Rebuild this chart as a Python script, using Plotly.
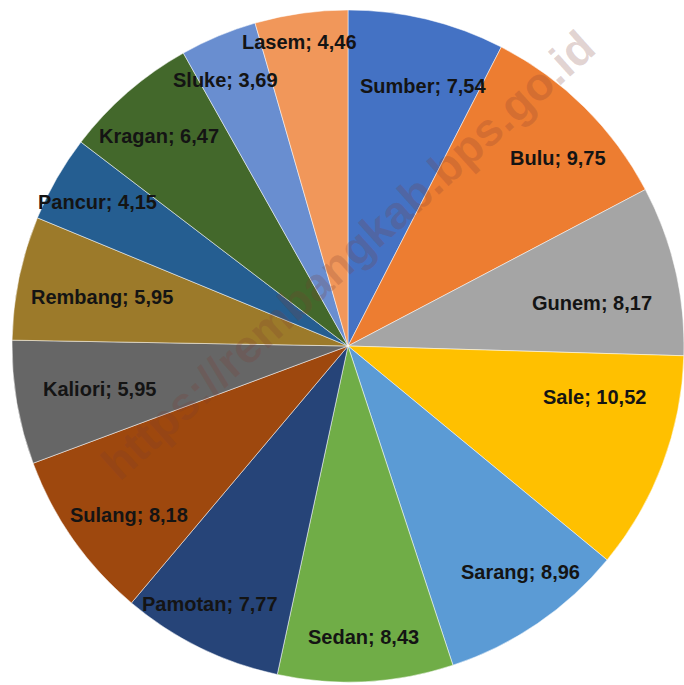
import math
import plotly.graph_objects as go

districts = ["Sumber", "Bulu", "Gunem", "Sale", "Sarang", "Sedan", "Pamotan",
             "Sulang", "Kaliori", "Rembang", "Pancur", "Kragan", "Sluke", "Lasem"]
values = [7.54, 9.75, 8.17, 10.52, 8.96, 8.43, 7.77, 8.18, 5.95, 5.95, 4.15, 6.47, 3.69, 4.46]
colors = ["#4472C4", "#ED7D31", "#A5A5A5", "#FFC000", "#5B9BD5", "#70AD47", "#264478",
          "#9E480E", "#666666", "#9C7A2A", "#255E91", "#43682B", "#698ED0", "#F1975A"]

# label placement style (fraction of radius, angular nudge in degrees)
label_r = [0.806, 0.838, 0.736, 0.749, 0.847, 0.868, 0.870,
           0.825, 0.751, 0.746, 0.859, 0.842, 0.871, 0.917]
label_nudge = [2.5, 3.5, 3.0, -9.0, -3.0, 0.0, 2.0,
               -2.5, 0.0, -0.5, 0.0, -1.0, -2.0, -1.0]

W, H = 684, 685
dom_x = [12 / W, 1.0]
dom_y = [2 / H, 676 / H]
cx = (dom_x[0] + dom_x[1]) / 2 * W
cy = (1 - (dom_y[0] + dom_y[1]) / 2) * H
R = min((dom_x[1] - dom_x[0]) * W, (dom_y[1] - dom_y[0]) * H) / 2

FS = 20
labels = [f"{d}; {v:.2f}".replace(".", ",") for d, v in zip(districts, values)]
total = sum(values)

fig = go.Figure(go.Pie(
    labels=districts, values=values, sort=False, direction="clockwise", rotation=0,
    marker=dict(colors=colors, line=dict(color="rgba(255,255,255,0.5)", width=1)),
    textinfo="none", hoverinfo="label+value", showlegend=False,
    domain=dict(x=dom_x, y=dom_y),
))

annotations = []
cum = 0.0
for lab, v, fr, nd in zip(labels, values, label_r, label_nudge):
    mid = (cum + v / 2) / total * 2 * math.pi + math.radians(nd)
    cum += v
    r = fr * R
    px = cx + r * math.sin(mid)
    py = cy - r * math.cos(mid)
    annotations.append(dict(
        x=px / W, y=1 - py / H, xref="paper", yref="paper", text=f"<b>{lab}</b>",
        showarrow=False, xanchor="center", yanchor="middle",
        font=dict(family="Liberation Sans, Arial", size=FS, color="#141414"),
    ))

annotations.append(dict(
    x=348 / W, y=1 - 255 / H, xref="paper", yref="paper",
    text="<b>https://rembangkab.bps.go.id</b>", showarrow=False, textangle=-42,
    font=dict(family="Liberation Sans, Arial", size=46, color="rgba(125,60,50,0.22)"),
))

fig.update_layout(
    width=W, height=H, margin=dict(l=0, r=0, t=0, b=0),
    paper_bgcolor="white", plot_bgcolor="white",
    annotations=annotations,
)

fig.write_html("out.html", config={"displayModeBar": False},
               post_script="document.body.style.margin='0';")
